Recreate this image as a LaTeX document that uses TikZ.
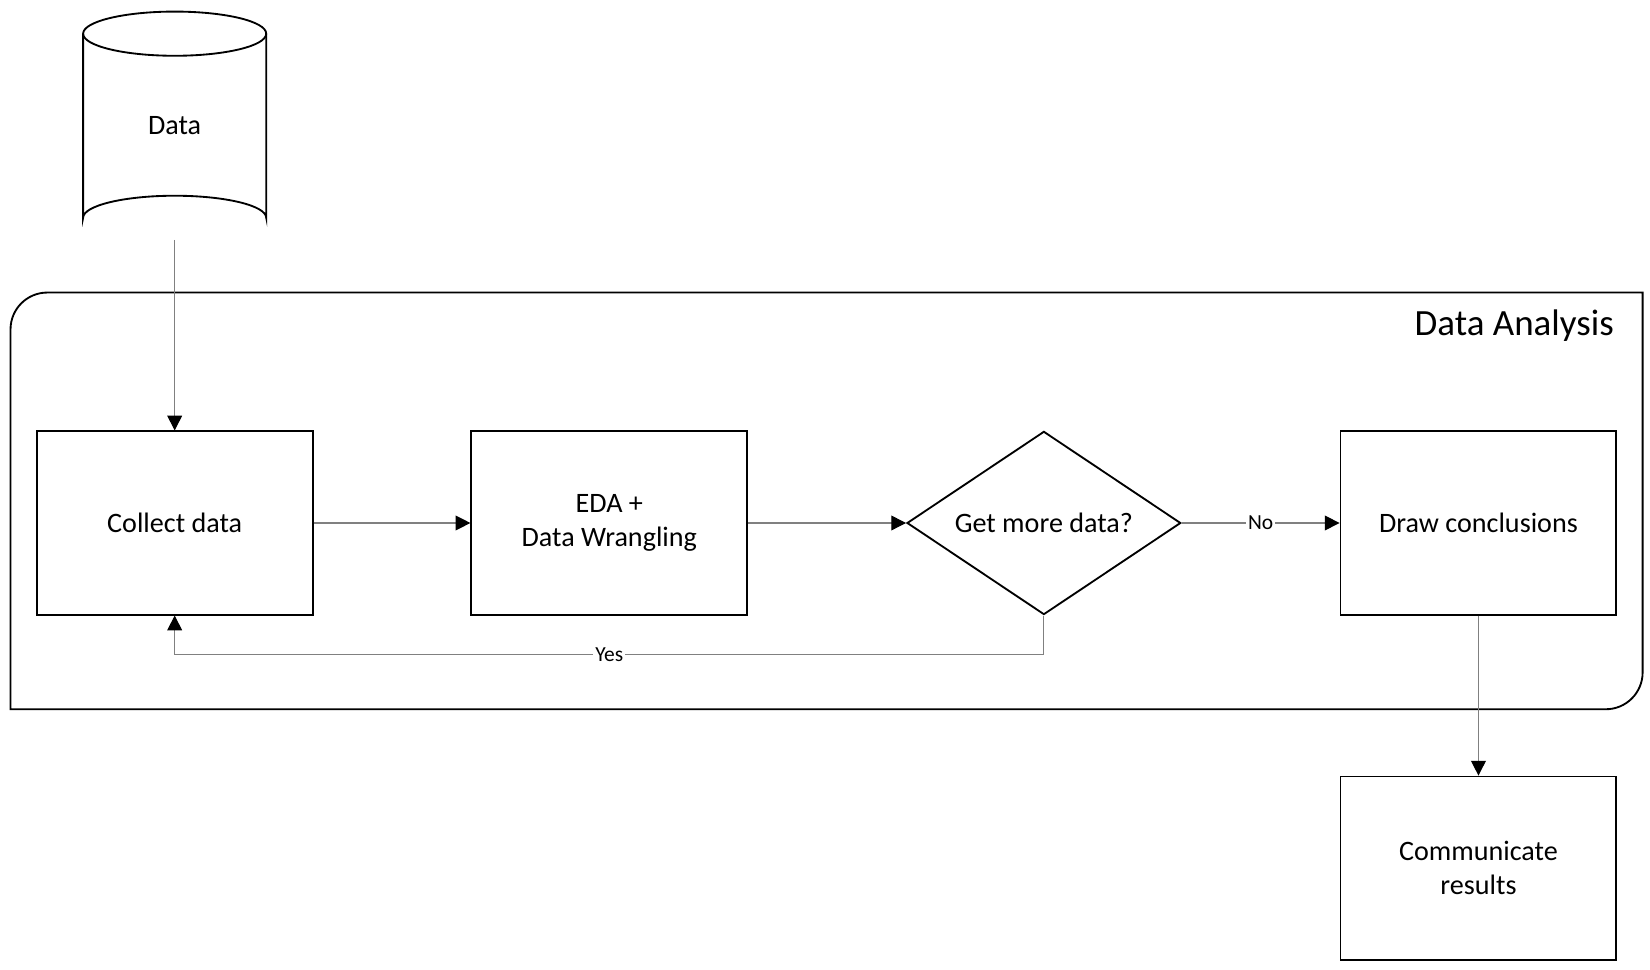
\documentclass[tikz,border=0pt]{standalone}
\usepackage{fontspec}
\setmainfont{Carlito}
\usetikzlibrary{arrows.meta,shapes.geometric}

\tikzstyle{block} = [draw, rectangle, line width=0.5pt, minimum width=2.62cm, minimum height=1.74cm, align=center, font=\fontsize{7.6}{9.2}\selectfont]
\tikzstyle{decision-block} = [block, diamond, aspect=1.5, minimum width=2.6cm, minimum height=1.74cm, inner sep=0pt]
\tikzstyle{flow} = [draw=gray, line width=0.3pt, -{Triangle[length=4pt,width=4pt,fill=black,color=black]}]
\tikzstyle{flow-label} = [fill=white, inner sep=0.5pt, font=\fontsize{5.8}{7}\selectfont]

\begin{document}
\begin{tikzpicture}[x=0.01cm, y=-0.01cm]
	\useasboundingbox (0,0) rectangle (1568,921);

	% data store
	\draw[line width=0.5pt] (166,32) ellipse [x radius=87, y radius=21];
	\draw[line width=0.5pt] (79,32) -- (79,207) arc[start angle=180, end angle=360, x radius=87, y radius=21] -- (253,32);
	\node[font=\fontsize{7.6}{9.2}\selectfont] (data) at (166,119) {Data};
	\coordinate (data-out) at (166,228);

	% analysis frame
	\draw[line width=0.5pt] (10,674) -- (10,313) arc[start angle=180, end angle=270, radius=35] -- (1561,278) -- (1561,639) arc[start angle=0, end angle=90, radius=35] -- cycle;
	\node[anchor=east, font=\fontsize{10}{12}\selectfont] (frame-title) at (1546,309) {Data Analysis};

	\node [block] (collect) at (166,497) {Collect data};
	\node [block] (eda) at (579,497) {EDA +\\Data Wrangling};
	\node [decision-block] (more) at (992,497) {Get more data?};
	\node [block] (conclude) at (1405,497) {Draw conclusions};
	\node [block] (communicate) at (1405,825) {Communicate\\results};

	\coordinate (loop-right) at (992,622);
	\coordinate (loop-left) at (166,622);

	\draw[flow] (data-out) -- (collect.north);
	\draw[flow] (collect) -- (eda);
	\draw[flow] (eda) -- (more);
	\draw[flow] (more) -- node[flow-label] {No} (conclude);
	\draw[flow] (more.south) -- (loop-right) -- node[flow-label] {Yes} (loop-left) -- (collect.south);
	\draw[flow] (conclude) -- (communicate);
\end{tikzpicture}
\end{document}
